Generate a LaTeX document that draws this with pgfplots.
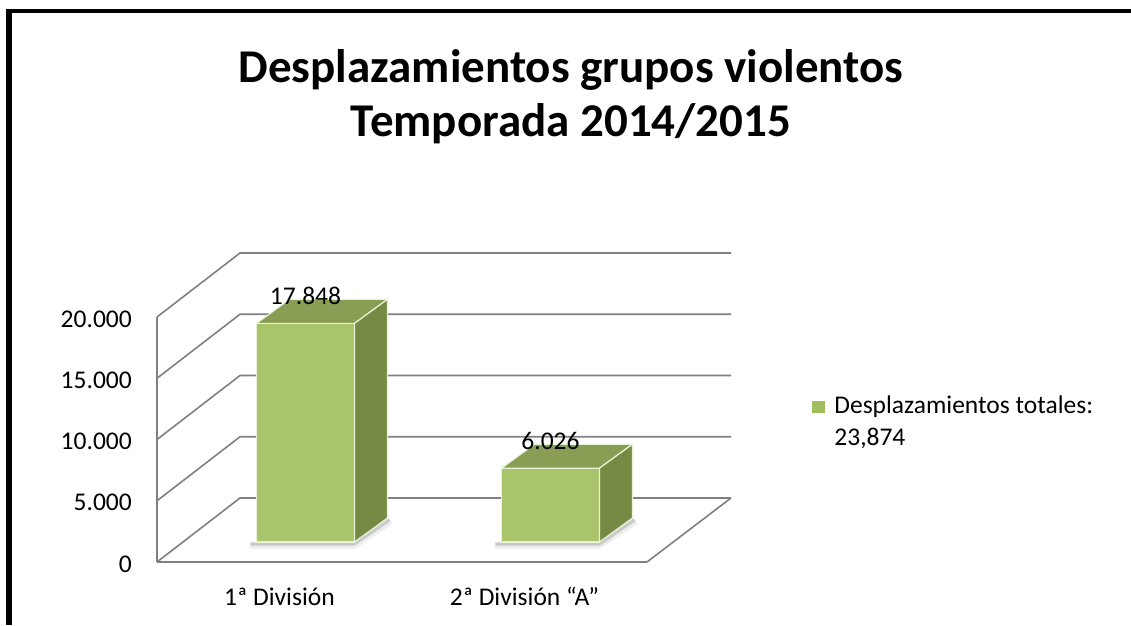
\documentclass[border=0pt]{standalone}
\usepackage{fontspec}
\setmainfont{Carlito}
\usepackage{pgfplots}
\pgfplotsset{compat=1.18}
\definecolor{frontg}{RGB}{170,196,108}
\definecolor{topg}{RGB}{137,158,84}
\definecolor{sideg}{RGB}{118,138,68}
\definecolor{edgeg}{RGB}{232,242,212}
\definecolor{gridc}{RGB}{128,128,128}
\definecolor{legg}{RGB}{160,190,95}
\pgfplotstableread{
cat value
0 17848
1 6026
}\datatable
\begin{document}
\begin{tikzpicture}[x=1pt,y=1pt]
\path[use as bounding box] (0,0) rectangle (1131,625);
\fill[white] (0,0) rectangle (1131,625);
\draw[line width=4.5pt] (6,614) -- (1131,614);
\draw[line width=6pt] (9,616.25) -- (9,0);
\node[font=\bfseries\fontsize{47}{54}\selectfont, anchor=base, inner sep=0pt] at (571,542) {Desplazamientos grupos violentos};
\node[font=\bfseries\fontsize{47}{54}\selectfont, anchor=base, inner sep=0pt] at (571,488.3) {Temporada 2014/2015};
\begin{axis}[
  at={(157pt,63pt)}, anchor=south west,
  scale only axis, width=490pt, height=245pt,
  xmin=-0.5, xmax=1.5, ymin=0, ymax=20000,
  clip=false,
  axis x line*=bottom, axis y line*=left,
  axis line style={-, draw=gridc, line width=1.6pt},
  major tick length=0pt,
  xtick={0,1}, xticklabels={{1ª División},{2ª División “A”}},
  ytick={0,5000,10000,15000,20000},
  scaled y ticks=false,
  tick label style={font=\fontsize{25.5}{30}\selectfont},
  yticklabel style={anchor=east, inner sep=0pt, xshift=-25pt, yshift=-2pt},
  xticklabel style={anchor=base, inner sep=0pt, yshift=-43pt},
  /pgf/number format/assume math mode=true,
  /pgf/number format/1000 sep={.},
  legend cell align=left,
  legend style={at={(axis description cs:1.3367,0.6817)}, anchor=north west,
    draw=none, fill=none, inner sep=0pt, outer sep=0pt, row sep=6pt, column sep=10pt,
    font=\fontsize{25.5}{30}\selectfont,
    nodes={inner sep=0pt, text height=19pt, text depth=7pt}},
]
\pgfplotsinvokeforeach{0,5000,10000,15000,20000}{
  \draw[gridc, line width=1.6pt] (axis cs:-0.5,#1) -- ++(83pt,64pt) -- ++(491pt,0pt);
}
\draw[gridc, line width=1.6pt] (axis cs:1.5,0) -- ++(84pt,64pt);

% 3-D bars: each drawn as a cuboid from its data point
\addplot[scatter, only marks, mark=*, mark size=0.1pt, mark options={draw=frontg, fill=frontg},
  point meta=y, point meta min=0, point meta max=20000,
  scatter/@pre marker code/.code={%
    \pgfmathsetmacro\h{\pgfplotspointmetatransformed*0.245}%
    \pgfmathsetmacro\b{20-\h}%
    \pgfmathsetmacro\bb{44-\h}%
    \draw[black, opacity=0.07, line width=7pt, line join=round] (-30pt,{\b pt-3pt}) -- (75pt,{\b pt-3pt}) -- (111pt,{\b pt+21pt});
    \draw[black, opacity=0.15, line width=3pt, line join=round] (-29pt,{\b pt-2pt}) -- (75pt,{\b pt-2pt}) -- (110pt,{\b pt+22pt});
    \filldraw[fill=frontg, draw=edgeg, line width=1.2pt, line join=round] (-23pt,\b pt) rectangle (75pt,20pt);
    \filldraw[fill=topg, draw=edgeg, line width=1.2pt, line join=round] (-23pt,20pt) -- (75pt,20pt) -- (108pt,44pt) -- (10pt,44pt) -- cycle;
    \filldraw[fill=sideg, draw=edgeg, line width=1.2pt, line join=round] (75pt,\b pt) -- (108pt,\bb pt) -- (108pt,44pt) -- (75pt,20pt) -- cycle;
  },
  scatter/@post marker code/.code={},
  legend image code/.code={\fill[legg] (0pt,-4.5pt) rectangle (12pt,7pt);},
] table[x=cat, y=value] {\datatable};
\addlegendentry{Desplazamientos totales:}
\addlegendimage{empty legend}
\addlegendentry{23,874}
% value labels
\addplot[forget plot, draw=none, mark=none,
  nodes near coords,
  every node near coord/.append style={anchor=center, xshift=26pt, yshift=47pt, font=\fontsize{25.5}{30}\selectfont, text=black},
] table[x=cat, y=value] {\datatable};
\end{axis}
\end{tikzpicture}
\end{document}
